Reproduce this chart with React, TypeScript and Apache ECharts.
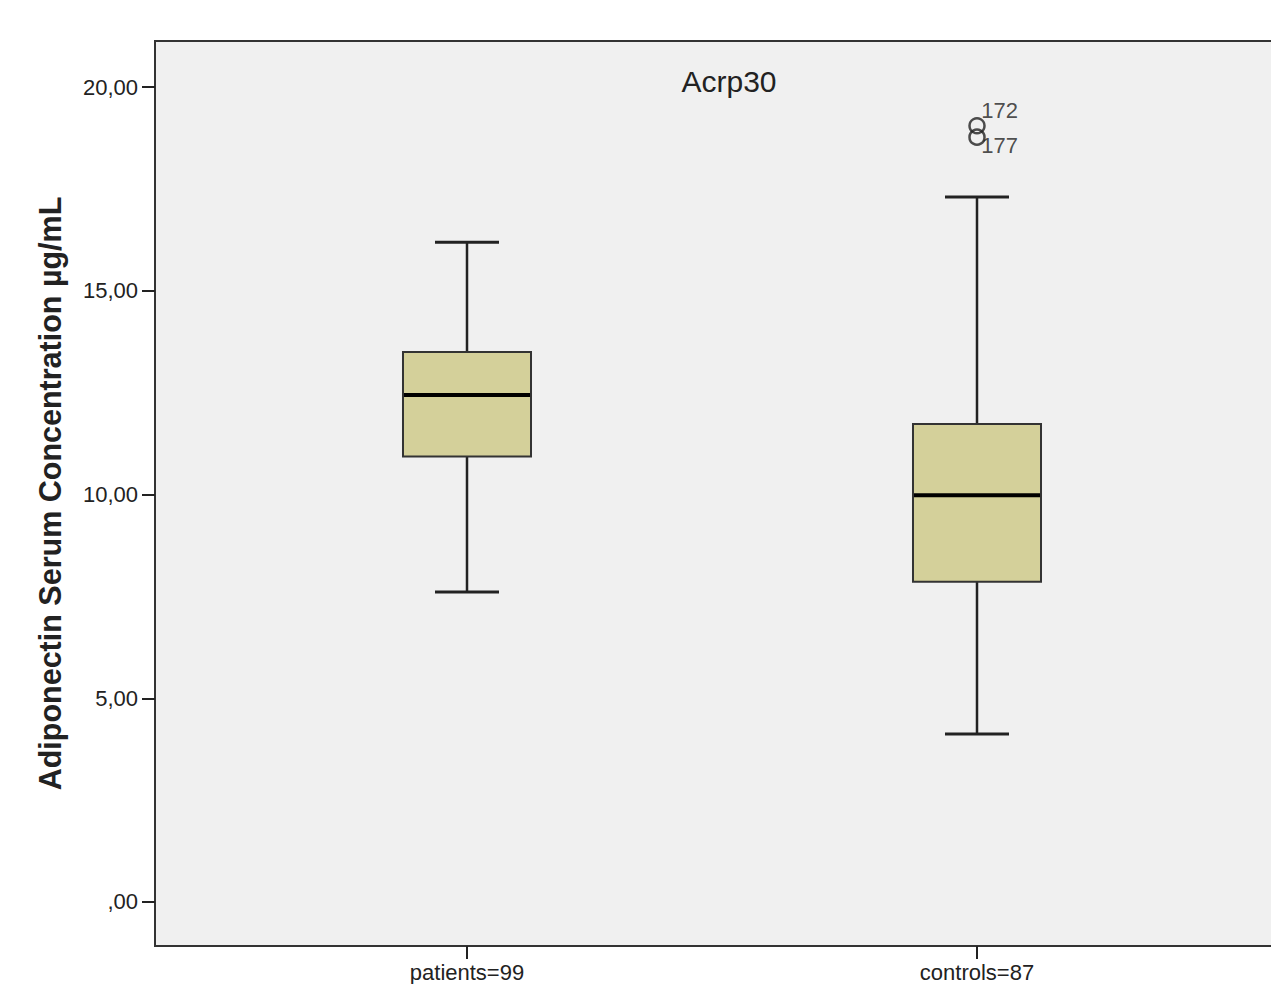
import React, { useEffect, useRef } from "react";
import * as echarts from "echarts";

// ---- data ----
const categories = ["patients=99", "controls=87"];
// [min whisker, Q1, median, Q3, max whisker]
const boxValues = [
  [7.61, 10.93, 12.44, 13.5, 16.19],
  [4.12, 7.86, 9.98, 11.73, 17.3],
];
const outlierValues = [19.05, 18.77];
const outlierCategory = [1, 1];
const outlierIds = ["172", "177"];
const yTickValues = [0, 5, 10, 15, 20];
const yTickLabels = [",00", "5,00", "10,00", "15,00", "20,00"];

const FONT = "'Liberation Sans', Arial, sans-serif";
const TEXT = "#222";

export default function App() {
  const ref = useRef<HTMLDivElement>(null);
  useEffect(() => {
    if (!ref.current) return;
    const chart = echarts.init(ref.current, null, { renderer: "svg" });
    const boxData = boxValues.map((v, i) => [i, ...v]);
    const outData = outlierValues.map((v, i) => [outlierCategory[i], v, outlierIds[i]]);
    chart.setOption({
      animation: false,
      backgroundColor: "#ffffff",
      title: {
        text: "Acrp30",
        left: 729,
        top: 66,
        textAlign: "center",
        padding: 0,
        textStyle: { fontFamily: FONT, fontSize: 30, fontWeight: "normal", color: TEXT },
      },
      graphic: [
        {
          type: "rect",
          z: -10,
          silent: true,
          shape: { x: 155, y: 41, width: 1200, height: 905 },
          style: { fill: "#f0f0f0", stroke: "#333", lineWidth: 2 },
        },
      ],
      grid: { left: 212, top: 41, width: 1020, height: 905, outerBoundsMode: "none", containLabel: false },
      xAxis: {
        type: "category",
        data: categories,
        axisLine: { show: false, onZero: false },
        axisTick: { show: true, alignWithLabel: true, length: 13, lineStyle: { color: "#222", width: 2 } },
        axisLabel: { fontFamily: FONT, fontSize: 22, color: TEXT, margin: 15 },
        splitLine: { show: false },
      },
      yAxis: {
        type: "value",
        min: -1.08,
        max: 21.13,
        offset: 57,
        name: "Adiponectin Serum Concentration µg/mL",
        nameLocation: "middle",
        nameGap: 90,
        nameTextStyle: { fontFamily: FONT, fontSize: 30.5, fontWeight: "bold", color: TEXT },
        axisLine: { show: true, lineStyle: { color: "#333", width: 2 } },
        axisTick: {
          show: true,
          length: 13,
          customValues: yTickValues,
          lineStyle: { color: "#222", width: 2 },
        },
        axisLabel: {
          customValues: yTickValues,
          fontFamily: FONT,
          fontSize: 22,
          color: TEXT,
          margin: 17,
          formatter: (v: number) => {
            const idx = yTickValues.indexOf(Math.round(v));
            return idx >= 0 ? yTickLabels[idx] : "";
          },
        },
        splitLine: { show: false },
      },
      series: [
        {
          type: "custom",
          data: boxData,
          encode: { x: 0, y: [1, 2, 3, 4, 5] },
          renderItem: (params: any, api: any) => {
            const c = api.value(0);
            const lo = api.coord([c, api.value(1)]);
            const q1 = api.coord([c, api.value(2)]);
            const md = api.coord([c, api.value(3)]);
            const q3 = api.coord([c, api.value(4)]);
            const hi = api.coord([c, api.value(5)]);
            const band = api.size([1, 0])[0];
            const bw = band * 0.251;
            const cw = bw / 2;
            const x = lo[0];
            const line = (x1: number, y1: number, x2: number, y2: number, w: number, col = "#222") => ({
              type: "line",
              shape: { x1, y1, x2, y2 },
              style: { stroke: col, lineWidth: w },
            });
            return {
              type: "group",
              children: [
                line(x, hi[1], x, q3[1], 2.5),
                line(x, q1[1], x, lo[1], 2.5),
                line(x - cw / 2, hi[1], x + cw / 2, hi[1], 3),
                line(x - cw / 2, lo[1], x + cw / 2, lo[1], 3),
                {
                  type: "rect",
                  shape: { x: x - bw / 2, y: q3[1], width: bw, height: q1[1] - q3[1] },
                  style: { fill: "#d4d09a", stroke: "#333", lineWidth: 2 },
                },
                line(x - bw / 2 + 1, md[1], x + bw / 2 - 1, md[1], 4, "#000"),
              ],
            };
          },
          z: 3,
        },
        {
          type: "scatter",
          data: outData.map((d, i) => ({
            value: d,
            label: {
              show: true,
              formatter: (p: any) => p.value[2],
              position: i === 0 ? [13, -18] : [13, 6],
              fontFamily: FONT,
              fontSize: 22,
              color: TEXT,
            },
          })),
          symbol: "circle",
          symbolSize: 15,
          itemStyle: { color: "rgba(0,0,0,0)", borderColor: "#222", borderWidth: 2.5 },
          z: 4,
        },
      ],
    });
    return () => chart.dispose();
  }, []);
  return (
    <div
      ref={ref}
      style={{ position: "fixed", left: 0, top: 0, width: 1271, height: 984 }}
    />
  );
}
